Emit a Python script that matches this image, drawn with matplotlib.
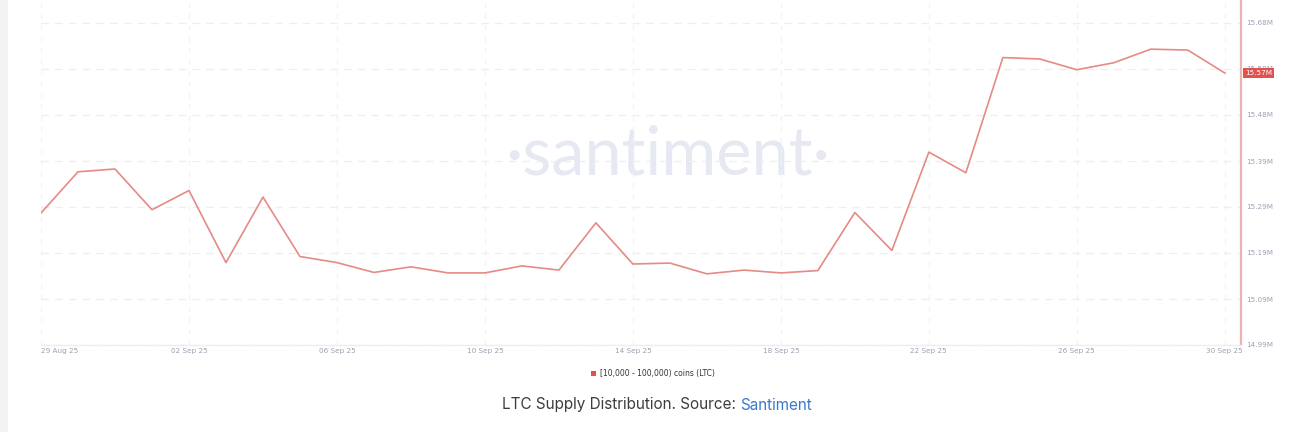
import numpy as np
import pandas as pd
import matplotlib
matplotlib.use("agg")
import matplotlib.pyplot as plt
import matplotlib.dates as mdates
from matplotlib.ticker import FixedLocator, FixedFormatter

# Data (daily values, millions of LTC held by 10k-100k wallets)
dates = pd.date_range("2025-08-29", "2025-09-30", freq="D")
supply = [
    15.272, 15.360, 15.366, 15.279, 15.320, 15.166, 15.306, 15.179, 15.166,
    15.145, 15.157, 15.144, 15.144, 15.159, 15.150, 15.251, 15.163, 15.165,
    15.142, 15.150, 15.144, 15.149, 15.273, 15.192, 15.402, 15.358, 15.604,
    15.601, 15.578, 15.593, 15.622, 15.620, 15.571,
]
y_ticks = [14.990, 15.088, 15.187, 15.285, 15.383, 15.482, 15.580, 15.678]
y_labels = ["14.99M", "15.09M", "15.19M", "15.29M", "15.39M", "15.48M", "15.58M", "15.68M"]
x_tick_dates = ["2025-08-29", "2025-09-02", "2025-09-06", "2025-09-10", "2025-09-14",
                "2025-09-18", "2025-09-22", "2025-09-26", "2025-09-30"]
series_label = "[10,000 - 100,000) coins (LTC)"
last_label = "15.57M"

LINE = "#e58a85"
GRID = "#eceef1"
TICK = "#9aa2b1"

fig = plt.figure(figsize=(13.03, 4.32), dpi=100)
fig.patch.set_facecolor("white")

# light grey strip at the far left
fig.patches.append(plt.Rectangle((0, 0), 8 / 1303, 1, transform=fig.transFigure,
                                 facecolor="#f3f3f4", edgecolor="none", zorder=0))

ax = fig.add_axes([41 / 1303, 87 / 432, 1200 / 1303, 345 / 432])
ax.plot(dates, supply, color=LINE, lw=1.2, zorder=3)

ax.set_xlim(dates[0], dates[-1] + pd.Timedelta(hours=10.5))
ax.set_ylim(14.99, 15.727)

# watermark
ax.text(0.522, 0.55, "·santiment·", transform=ax.transAxes, ha="center", va="center",
        fontsize=48, color="#e6e8f2", family="Lato", zorder=1)

# grid
xt = [mdates.date2num(pd.Timestamp(d)) for d in x_tick_dates]
ax.xaxis.set_major_locator(FixedLocator(xt))
ax.xaxis.set_major_formatter(mdates.DateFormatter("%d %b %y"))
ax.yaxis.set_major_locator(FixedLocator(y_ticks))
ax.yaxis.set_major_formatter(FixedFormatter(y_labels))
ax.grid(True, axis="y", color=GRID, lw=0.9, ls=(0, (6, 5)), zorder=0)
ax.grid(True, axis="x", color="#f1f2f4", lw=0.9, ls=(0, (4, 5)), zorder=0)

for s in ["top", "left"]:
    ax.spines[s].set_visible(False)
ax.spines["bottom"].set_color("#eceef1")
ax.spines["bottom"].set_linewidth(1.0)
ax.spines["right"].set_color("#efb2ae")
ax.spines["right"].set_linewidth(1.6)

ax.yaxis.tick_right()
ax.tick_params(axis="y", length=0, pad=4, labelsize=5.2, labelcolor=TICK)
ax.tick_params(axis="x", length=0, pad=2.5, labelsize=5.2, labelcolor=TICK)
xl = ax.get_xticklabels()
xl[0].set_horizontalalignment("left")

# current value badge
ax.annotate(last_label, xy=(1.0, supply[-1]), xycoords=("axes fraction", "data"),
            xytext=(3, 0), textcoords="offset points", ha="left", va="center",
            fontsize=5.2, color="white",
            bbox=dict(boxstyle="square,pad=0.25", fc="#e0524e", ec="none"),
            zorder=5, annotation_clip=False)

# legend
fig.patches.append(plt.Rectangle((591 / 1303, (432 - 376) / 432), 5 / 1303, 5 / 432,
                                 transform=fig.transFigure, facecolor="#e0524e",
                                 edgecolor="none"))
fig.text(600 / 1303, (432 - 373.5) / 432, series_label, fontsize=5.5, color="#333333",
         ha="left", va="center")

# caption
fig.text(740 / 1303, (432 - 405) / 432, "LTC Supply Distribution. Source: ",
         fontsize=11, color="#3d3d3d", ha="right", va="center", family="Inter")
fig.text(740 / 1303, (432 - 405) / 432, "Santiment",
         fontsize=11, color="#3a78d0", ha="left", va="center", family="Inter")

fig.savefig("out.png", dpi=100)
